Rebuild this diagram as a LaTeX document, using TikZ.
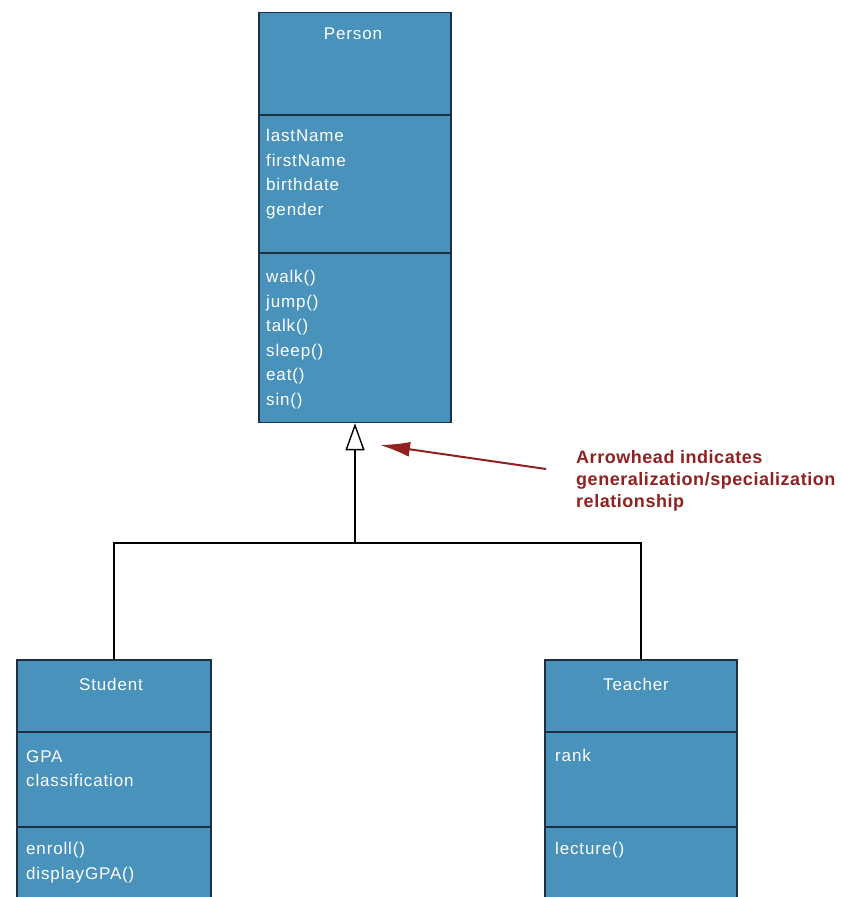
\documentclass[tikz,border=0pt]{standalone}
\usepackage{fontspec}
\setmainfont{Liberation Sans}
\usetikzlibrary{arrows.meta}
\definecolor{umlfill}{RGB}{72,146,188}
\definecolor{umlline}{RGB}{28,48,66}
\definecolor{notered}{RGB}{145,32,32}
\begin{document}
\begin{tikzpicture}[x=1pt,y=-1pt,
  classbox/.style={draw=umlline,line width=1.5pt,fill=umlfill,inner sep=0pt},
  divider/.style={draw=umlline,line width=1.5pt},
  memtext/.style={text=white,font=\fontsize{17}{24.5}\selectfont\addfontfeature{LetterSpace=5},align=left,anchor=north west,inner sep=0pt},
  titletext/.style={text=white,font=\fontsize{17}{24}\selectfont\addfontfeature{LetterSpace=5},anchor=center,inner sep=0pt},
  notetext/.style={text=notered,font=\bfseries\fontsize{18}{22}\selectfont\addfontfeature{LetterSpace=3},align=left,anchor=north west,inner sep=0pt},
  connector/.style={draw=black,line width=1.4pt},
  notearrow/.style={draw=notered,line width=2pt,-{Latex[length=30pt,width=15pt]}}]
\useasboundingbox (0,0) rectangle (841,897);
\fill[white] (0,0) rectangle (841,897);
% Person class
\node[classbox,minimum width=192pt,minimum height=410pt] (person) at (355,217.5) {};
\draw[divider] (person.west |- 0,115) -- (person.east |- 0,115);
\draw[divider] (person.west |- 0,253) -- (person.east |- 0,253);
\node[titletext] (ptitle) at (353,34) {Person};
\node[memtext] (pattr) at (266,129) {lastName\\firstName\\birthdate\\gender};
\node[memtext] (pmeth) at (266,270) {walk()\\jump()\\talk()\\sleep()\\eat()\\sin()};
% Student class
\node[classbox,minimum width=194pt,minimum height=260pt] (student) at (114,790) {};
\draw[divider] (student.west |- 0,732) -- (student.east |- 0,732);
\draw[divider] (student.west |- 0,827) -- (student.east |- 0,827);
\node[titletext] (stitle) at (111,684) {Student};
\node[memtext] (sattr) at (26,750) {GPA\\classification};
\node[memtext] (smeth) at (26,842) {enroll()\\displayGPA()};
% Teacher class
\node[classbox,minimum width=192pt,minimum height=260pt] (teacher) at (641,790) {};
\draw[divider] (teacher.west |- 0,732) -- (teacher.east |- 0,732);
\draw[divider] (teacher.west |- 0,827) -- (teacher.east |- 0,827);
\node[titletext] (ttitle) at (636,684) {Teacher};
\node[memtext] (tattr) at (555,749) {rank};
\node[memtext] (tmeth) at (555,842) {lecture()};
% generalization connectors
\coordinate (junction) at (355,543);
\draw[connector,-{Triangle[open,length=27pt,width=19pt,line width=1.4pt]}] (junction) -- (person.south);
\draw[connector] (student.north) |- (junction) -| (teacher.north);
% note
\node[notetext] (note) at (576,450) {Arrowhead indicates\\generalization/specialization\\relationship};
\coordinate (notestart) at (546,469);
\coordinate (notetip) at (380,445);
\draw[notearrow] (notestart) -- (notetip);
\end{tikzpicture}
\end{document}
